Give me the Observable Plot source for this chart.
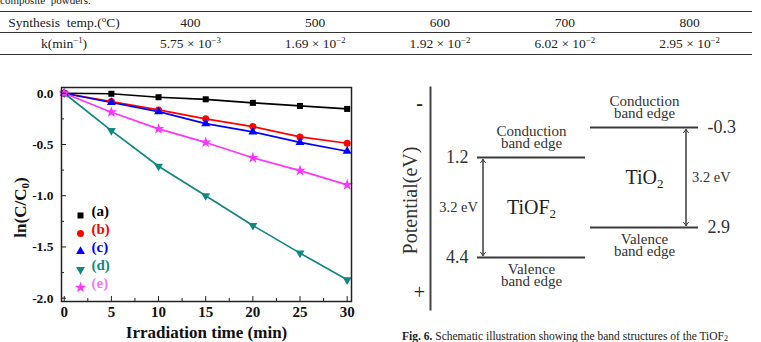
<!DOCTYPE html>
<html>
<head>
<meta charset="utf-8">
<script src="https://cdn.jsdelivr.net/npm/d3@7"></script>
<script src="https://cdn.jsdelivr.net/npm/@observablehq/plot@0.6"></script>
<style>
html,body{margin:0;padding:0;background:#fff;}
#page{position:relative;width:761px;height:342px;overflow:hidden;font-family:"Liberation Serif","Times New Roman",serif;color:#222;}
#topnote{position:absolute;left:0;top:-5px;font-size:11px;line-height:11px;white-space:nowrap;}
#tbl{position:absolute;left:0;top:11px;width:752px;border-collapse:collapse;table-layout:fixed;font-size:13.5px;}
#tbl td{text-align:center;padding:0;line-height:14px;white-space:nowrap;}
#tbl tr.h td{height:18px;padding-top:2px;border-top:1.5px solid #333;border-bottom:1px solid #333;}
#tbl tr.b td{height:20px;padding-top:1px;border-bottom:1.5px solid #333;}
#tbl sup{font-size:65%;line-height:0;vertical-align:0.55em;}
#left{position:absolute;left:0;top:70px;}
#right{position:absolute;left:380px;top:70px;}
#cap{position:absolute;left:402px;top:330px;font-size:11.5px;line-height:12px;white-space:nowrap;}
#cap sub{font-size:70%;line-height:0;vertical-align:-0.15em;}
</style>
</head>
<body>
<div id="page">
  <div id="topnote">composite&nbsp; powders.</div>
  <table id="tbl"></table>
  <div id="left"></div>
  <div id="right"></div>
  <div id="cap"><b>Fig. 6.</b> Schematic illustration showing the band structures of the TiOF<sub>2</sub></div>
</div>
<script>
// ---------- Table data ----------
const synthTemps = [400, 500, 600, 700, 800];
const kMantissa = ["5.75", "1.69", "1.92", "6.02", "2.95"];
const kExponent = [-3, -2, -2, -2, -2];

// ---------- Kinetics chart data ----------
const time = [0, 5, 10, 15, 20, 25, 30];
const seriesA = [0, -0.005, -0.039, -0.059, -0.094, -0.124, -0.153];
const seriesB = [0, -0.081, -0.163, -0.250, -0.325, -0.426, -0.488];
const seriesC = [0, -0.090, -0.180, -0.296, -0.377, -0.480, -0.566];
const seriesD = [0, -0.364, -0.712, -1.000, -1.290, -1.560, -1.820];
const seriesE = [0, -0.185, -0.348, -0.480, -0.630, -0.755, -0.894];
const seriesLabels = ["(a)", "(b)", "(c)", "(d)", "(e)"];
const xTicks = [0, 5, 10, 15, 20, 25, 30];
const xMinor = [2.5, 7.5, 12.5, 17.5, 22.5, 27.5];
const yTicks = [0, -0.5, -1.0, -1.5, -2.0];
const yMinor = [-0.25, -0.75, -1.25, -1.75];

// ---------- Band diagram data ----------
const materials = ["TiOF_2", "TiO_2"];
const cbEdge = [1.2, -0.3];
const vbEdge = [4.4, 2.9];
const bandGap = [3.2, 3.2];

// ---------- Table ----------
{
  const table = d3.select("#tbl");
  const hdr = table.append("tr").attr("class", "h");
  hdr.append("td").style("width", "128px").html("Synthesis&nbsp; temp.(<sup>o</sup>C)");
  synthTemps.forEach(t => hdr.append("td").text(t));
  const body = table.append("tr").attr("class", "b");
  body.append("td").html("k(min<sup>&minus;1</sup>)");
  kMantissa.forEach((m, i) => body.append("td").html(`${m} &times; 10<sup>&minus;${-kExponent[i]}</sup>`));
}

// turn "X_2" into X with a real subscript tspan (call after the svg is in the document)
function subscriptify(svg) {
  svg.querySelectorAll("text, tspan").forEach(el => {
    if (el.children.length) return;
    const t = el.textContent;
    if (!t.includes("_")) return;
    const fs = parseFloat(getComputedStyle(el).fontSize) || 16;
    el.textContent = "";
    t.split(/(_\d)/).forEach(part => {
      if (!part) return;
      const ts = document.createElementNS("http://www.w3.org/2000/svg", "tspan");
      if (part[0] === "_") {
        ts.textContent = part.slice(1);
        ts.setAttribute("baseline-shift", String(-(0.2 * fs).toFixed(1)));
        ts.setAttribute("font-size", (0.65 * fs).toFixed(1));
      } else ts.textContent = part;
      el.appendChild(ts);
    });
  });
}

// ---------- Left: kinetics plot ----------
{
  const sqrt3 = Math.sqrt(3);
  const triangleDown = {
    draw(context, size) {
      const y = -Math.sqrt(size / (sqrt3 * 3));
      context.moveTo(0, -y * 2);
      context.lineTo(-sqrt3 * y, y);
      context.lineTo(sqrt3 * y, y);
      context.closePath();
    }
  };
  const allSeries = [seriesA, seriesB, seriesC, seriesD, seriesE];
  const colors = ["#000000", "#ff0000", "#0000ff", "#108780", "#ff33ff"];
  const textColors = ["#000000", "#ff0000", "#0000ff", "#108780", "#f27af2"];
  const symbols = [d3.symbolSquare, d3.symbolCircle, d3.symbolTriangle, triangleDown, d3.symbolStar];
  const radii = [3.4, 3.5, 3.3, 3.3, 3.6];

  const marks = [];
  allSeries.forEach((s, k) => {
    const rows = time.map((t, i) => ({time: t, value: s[i]}));
    marks.push(Plot.line(rows, {x: "time", y: "value", stroke: colors[k], strokeWidth: 1.7}));
  });
  allSeries.forEach((s, k) => {
    const rows = time.map((t, i) => ({time: t, value: s[i]}));
    marks.push(Plot.dot(rows, {x: "time", y: "value", fill: colors[k], symbol: symbols[k], r: radii[k], stroke: "none"}));
  });
  // legend
  seriesLabels.forEach((lab, k) => {
    marks.push(Plot.dot([lab], {frameAnchor: "bottom-left", dx: 19, dy: -86 + k * 18, fill: colors[k], symbol: symbols[k], r: radii[k], stroke: "none"}));
    marks.push(Plot.text([lab], {frameAnchor: "bottom-left", dx: 30, dy: -86 + k * 18, text: d => d, textAnchor: "start", fill: textColors[k], fontWeight: "bold", fontSize: 15}));
  });
  // axes
  marks.push(
    Plot.axisX(xTicks, {tickSize: 0, tickPadding: 5, fontSize: 15, fontWeight: "bold", label: null}),
    Plot.axisX(xTicks, {anchor: "bottom", tickSize: 5, dy: -5, fill: "none", stroke: "#222", label: null}),
    Plot.axisX(xMinor, {anchor: "bottom", tickSize: 3, dy: -3, fill: "none", stroke: "#222", label: null}),
    Plot.axisY(yTicks, {tickSize: 0, tickPadding: 8, fontSize: 13.5, fontWeight: "bold", tickFormat: d => d.toFixed(1), label: null}),
    Plot.axisY(yTicks, {anchor: "left", tickSize: 5, dx: 5, fill: "none", stroke: "#222", label: null}),
    Plot.axisY(yMinor, {anchor: "left", tickSize: 3, dx: 3, fill: "none", stroke: "#222", label: null}),
    Plot.frame({stroke: "#222", strokeWidth: 1.5}),
    Plot.text(["ln(C/C_0)"], {frameAnchor: "left", textAnchor: "middle", rotate: -90, dx: -41, dy: 13, fontSize: 17, fontWeight: "bold", fill: "#111"}),
    Plot.text(["Irradiation time (min)"], {frameAnchor: "bottom", dy: 36.5, fontSize: 17, fontWeight: "bold", fill: "#111"})
  );

  const chart = Plot.plot({
    width: 380, height: 272,
    marginTop: 17, marginRight: 29, marginBottom: 41, marginLeft: 61,
    x: {domain: [-0.29, 30.46]},
    y: {domain: [-2.032, 0.056]},
    style: {fontFamily: "'Liberation Serif', 'Times New Roman', serif", color: "#111", background: "white", overflow: "visible"},
    marks
  });
  document.getElementById("left").appendChild(chart);
  subscriptify(chart);
}

// ---------- Right: band diagram ----------
{
  const bands = [];
  materials.forEach((m, i) => {
    bands.push({material: m, edge: cbEdge[i], kind: "cb", side: i === 0 ? "left" : "right"});
    bands.push({material: m, edge: vbEdge[i], kind: "vb", side: i === 0 ? "left" : "right"});
  });
  const gaps = materials.map((m, i) => ({material: m, cb: cbEdge[i], vb: vbEdge[i], gap: bandGap[i], side: i === 0 ? "left" : "right"}));

  // the figure is a schematic: the potential axis is drawn piecewise (not to scale)
  const schematic = d3.scaleLinear().domain(d3.sort([...cbEdge, ...vbEdge])).range([0, 30, 100, 130]);
  gaps.forEach(g => { g.mid = schematic.invert((schematic(g.cb) + schematic(g.vb)) / 2); });

  const lineColor = "#3a3a3a";
  const arrowOpts = {stroke: lineColor, strokeWidth: 1, headLength: 6, headAngle: 75, insetStart: 2, insetEnd: 2};
  const left = gaps.filter(d => d.side === "left");
  const right = gaps.filter(d => d.side === "right");
  const marks = [
    Plot.frame({anchor: "left", stroke: "#444", strokeWidth: 2}),
    Plot.text(["-"], {frameAnchor: "top-left", textAnchor: "middle", dx: -11, dy: 8, fontSize: 20, fontWeight: "bold", fill: "#222"}),
    Plot.text(["+"], {frameAnchor: "bottom-left", textAnchor: "middle", dx: -11, dy: -11, fontSize: 20, fill: "#222"}),
    Plot.text(["Potential(eV)"], {frameAnchor: "left", textAnchor: "middle", rotate: -90, dx: -20, dy: 2, fontSize: 20, fill: "#333"}),
    Plot.tickY(bands, {x: "material", y: "edge", stroke: lineColor, strokeWidth: 1.8}),
    // edge values
    Plot.text(bands.filter(d => d.side === "left"), {x: "material", y: "edge", text: d => String(d.edge), textAnchor: "end", dx: -63, fontSize: 18, fill: "#333"}),
    Plot.text(bands.filter(d => d.side === "right"), {x: "material", y: "edge", text: d => String(d.edge), textAnchor: "start", dx: 63, fontSize: 18, fill: "#333"}),
    // edge names
    Plot.text(bands.filter(d => d.kind === "cb"), {x: "material", y: "edge", text: () => "Conduction\nband edge", lineAnchor: "bottom", lineHeight: 0.8, dy: -10, fontSize: 15, fill: "#333"}),
    Plot.text(bands.filter(d => d.kind === "vb"), {x: "material", y: "edge", text: () => "Valence\nband edge", lineAnchor: "top", lineHeight: 0.8, dy: 8, fontSize: 15, fill: "#333"}),
    // gap arrows (double-headed)
    Plot.arrow(left, {x1: "material", x2: "material", y1: "cb", y2: "vb", dx: -48.5, ...arrowOpts}),
    Plot.arrow(left, {x1: "material", x2: "material", y1: "vb", y2: "cb", dx: -48.5, ...arrowOpts}),
    Plot.arrow(right, {x1: "material", x2: "material", y1: "cb", y2: "vb", dx: 41.5, ...arrowOpts}),
    Plot.arrow(right, {x1: "material", x2: "material", y1: "vb", y2: "cb", dx: 41.5, ...arrowOpts}),
    Plot.text(left, {x: "material", y: "mid", text: d => `${d.gap} eV`, textAnchor: "end", dx: -53.5, fontSize: 14.5, fill: "#333"}),
    Plot.text(right, {x: "material", y: "mid", text: d => `${d.gap} eV`, textAnchor: "start", dx: 47.5, fontSize: 14.5, fill: "#333"}),
    // material names
    Plot.text(gaps, {x: "material", y: "mid", text: "material", fontSize: 20, fill: "#222"})
  ];

  const diagram = Plot.plot({
    width: 381, height: 255,
    marginTop: 17, marginRight: 0, marginBottom: 16, marginLeft: 50,
    x: {type: "band", domain: materials, range: [97, 318], paddingInner: 0.045, paddingOuter: 0, axis: null},
    y: {type: "linear", transform: v => schematic(v), domain: [182, -40], axis: null},
    style: {fontFamily: "'Liberation Serif', 'Times New Roman', serif", color: "#222", background: "white", overflow: "visible"},
    marks
  });
  document.getElementById("right").appendChild(diagram);
  subscriptify(diagram);
}
</script>
</body>
</html>
